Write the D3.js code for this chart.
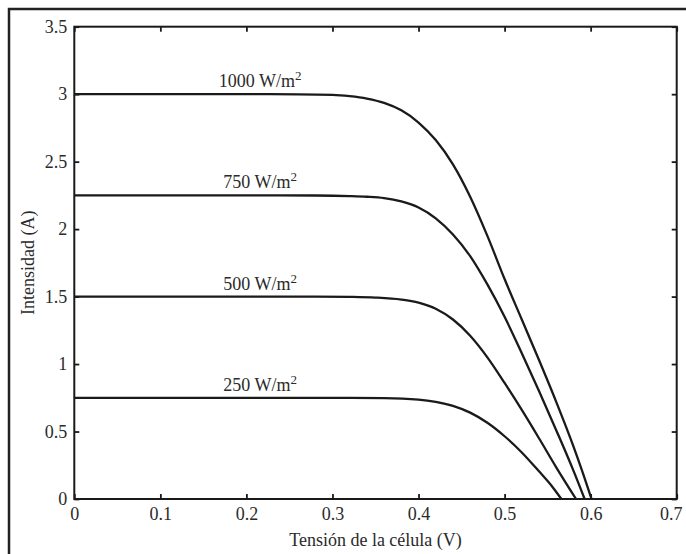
<!DOCTYPE html>
<html><head><meta charset="utf-8">
<script src="https://cdn.jsdelivr.net/npm/d3@7"></script>
<style>body{margin:0;background:#fff}svg{display:block}</style>
</head><body><svg id="c" width="686" height="554"></svg>
<script>
// ---- data ----
const xTicks = [0, 0.1, 0.2, 0.3, 0.4, 0.5, 0.6, 0.7];
const yTicks = [0, 0.5, 1, 1.5, 2, 2.5, 3, 3.5];
const irradianceLabels = ["1000", "750", "500", "250"];

const volt1000 = [0, 0.1, 0.2, 0.26, 0.30, 0.32, 0.34, 0.36, 0.38, 0.40, 0.42, 0.44, 0.46, 0.48, 0.50, 0.52, 0.54, 0.56, 0.58, 0.59, 0.601];
const amp1000  = [3.0, 3.0, 3.0, 2.999, 2.995, 2.985, 2.967, 2.935, 2.88, 2.79, 2.66, 2.48, 2.24, 1.95, 1.63, 1.33, 1.03, 0.72, 0.39, 0.21, 0];

const volt750 = [0, 0.1, 0.2, 0.28, 0.32, 0.34, 0.36, 0.38, 0.40, 0.42, 0.44, 0.46, 0.48, 0.50, 0.52, 0.54, 0.56, 0.58, 0.593];
const amp750  = [2.25, 2.25, 2.25, 2.249, 2.245, 2.24, 2.23, 2.205, 2.16, 2.08, 1.96, 1.80, 1.59, 1.35, 1.08, 0.80, 0.51, 0.21, 0];

const volt500 = [0, 0.1, 0.2, 0.28, 0.32, 0.35, 0.38, 0.40, 0.42, 0.44, 0.46, 0.48, 0.50, 0.52, 0.54, 0.56, 0.583];
const amp500  = [1.5, 1.5, 1.5, 1.5, 1.498, 1.493, 1.478, 1.455, 1.41, 1.33, 1.21, 1.05, 0.86, 0.66, 0.45, 0.235, 0];

const volt250 = [0, 0.1, 0.2, 0.3, 0.36, 0.40, 0.42, 0.44, 0.46, 0.48, 0.50, 0.52, 0.54, 0.555, 0.566];
const amp250  = [0.75, 0.75, 0.75, 0.75, 0.748, 0.737, 0.72, 0.69, 0.64, 0.565, 0.465, 0.345, 0.205, 0.095, 0];

const series = [
  {label: irradianceLabels[0], v: volt1000, i: amp1000},
  {label: irradianceLabels[1], v: volt750,  i: amp750},
  {label: irradianceLabels[2], v: volt500,  i: amp500},
  {label: irradianceLabels[3], v: volt250,  i: amp250}
];
const labelVolt = 0.216;

// ---- drawing ----
const svg = d3.select("#c");
const ink = "#1a1a1a";
const font = "'Liberation Serif', 'Times New Roman', serif";

// scanned page frame
svg.append("rect").attr("x", 9).attr("y", 9).attr("width", 720).attr("height", 600)
  .attr("fill", "none").attr("stroke", "#222").attr("stroke-width", 2.5);

const x = d3.scaleLinear().domain([0, 0.7]).range([74.3, 676.7]);
const y = d3.scaleLinear().domain([0, 3.5]).range([499, 26.7]);

const fmt = d => String(d);

function styleAxis(g) {
  g.select(".domain").remove();
  g.selectAll(".tick line").attr("stroke", ink).attr("stroke-width", 1.8);
  g.selectAll(".tick text").attr("fill", "#2a2a2a").style("font-family", font).style("font-size", "18px");
}

const bottomAxis = svg.append("g").attr("transform", `translate(0,${y(0)})`)
  .call(d3.axisBottom(x).tickValues(xTicks).tickFormat(fmt).tickSizeInner(-5).tickSizeOuter(0).tickPadding(8))
  .call(styleAxis);
// last label sits slightly inside the page edge, as in the scan
bottomAxis.selectAll(".tick text").filter(d => d === xTicks[xTicks.length - 1]).attr("dx", -6);

svg.append("g").attr("transform", `translate(0,${y(3.5)})`)
  .call(d3.axisTop(x).tickValues(xTicks).tickFormat("").tickSizeInner(-5).tickSizeOuter(0))
  .call(styleAxis);
svg.append("g").attr("transform", `translate(${x(0)},0)`)
  .call(d3.axisLeft(y).tickValues(yTicks).tickFormat(fmt).tickSizeInner(-5).tickSizeOuter(0).tickPadding(7))
  .call(styleAxis);
svg.append("g").attr("transform", `translate(${x(0.7)},0)`)
  .call(d3.axisRight(y).tickValues(yTicks).tickFormat("").tickSizeInner(-5).tickSizeOuter(0))
  .call(styleAxis);

// plot box
svg.append("rect").attr("x", x(0)).attr("y", y(3.5))
  .attr("width", x(0.7) - x(0)).attr("height", y(0) - y(3.5))
  .attr("fill", "none").attr("stroke", ink).attr("stroke-width", 2);

// curves
const line = d3.line().x(d => x(d[0])).y(d => y(d[1])).curve(d3.curveMonotoneX);
svg.append("g").selectAll("path").data(series).join("path")
  .attr("d", s => line(s.v.map((v, k) => [v, s.i[k]])))
  .attr("fill", "none").attr("stroke", ink).attr("stroke-width", 2.3);

// curve labels
const lab = svg.append("g").selectAll("text").data(series).join("text")
  .attr("x", x(labelVolt)).attr("y", s => y(s.i[0]) - 7)
  .attr("text-anchor", "middle").attr("fill", "#2a2a2a")
  .style("font-family", font).style("font-size", "18px");
lab.append("tspan").text(s => s.label + " W/m");
lab.append("tspan").attr("dy", -7).style("font-size", "13px").text("2");

// axis titles
svg.append("text").attr("x", (x(0) + x(0.7)) / 2).attr("y", 546)
  .attr("text-anchor", "middle").attr("fill", "#2a2a2a")
  .style("font-family", font).style("font-size", "18px")
  .text("Tensión de la célula (V)");
svg.append("text").attr("transform", `translate(34,${(y(0) + y(3.5)) / 2}) rotate(-90)`)
  .attr("text-anchor", "middle").attr("fill", "#2a2a2a")
  .style("font-family", font).style("font-size", "18px")
  .text("Intensidad (A)");
</script></body></html>
